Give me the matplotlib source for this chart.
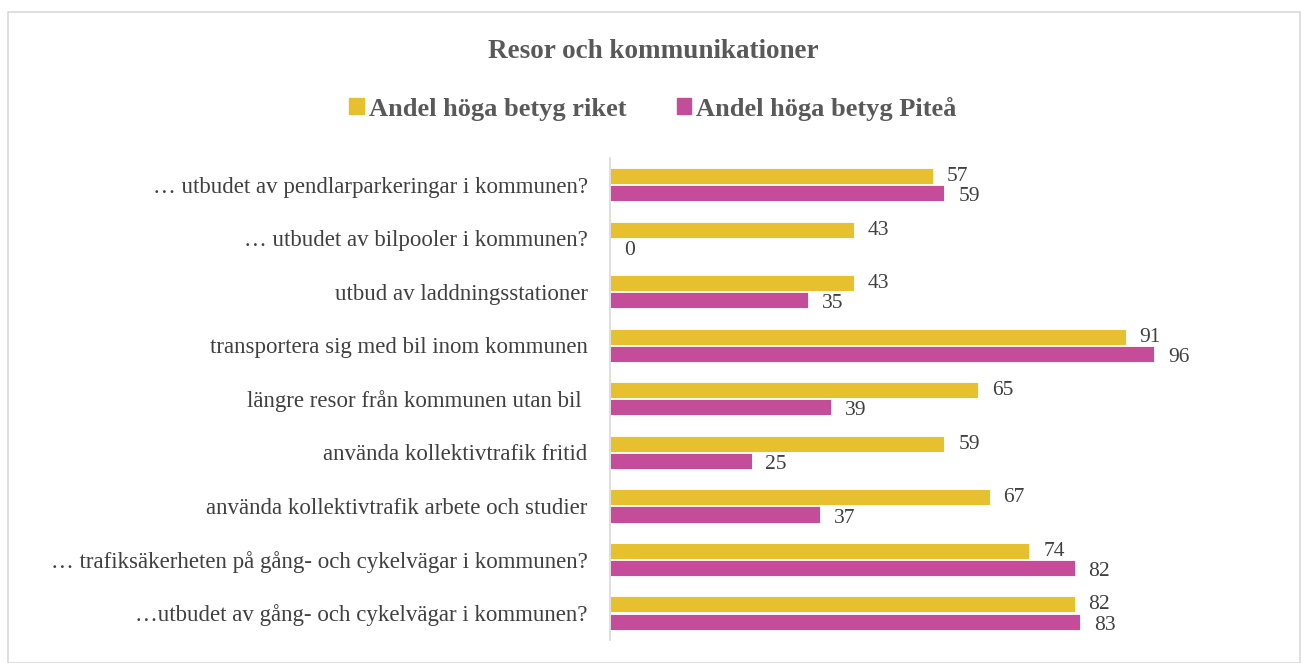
import numpy as np
from matplotlib import pyplot as plt
from matplotlib.patches import Rectangle, Patch

categories = [
    '… utbudet av pendlarparkeringar i kommunen?',
    '… utbudet av bilpooler i kommunen?',
    'utbud av laddningsstationer',
    'transportera sig med bil inom kommunen',
    'längre resor från kommunen utan bil ',
    'använda kollektivtrafik fritid',
    'använda kollektivtrafik arbete och studier',
    '… trafiksäkerheten på gång- och cykelvägar i kommunen?',
    '…utbudet av gång- och cykelvägar i kommunen?',
]
riket = [57, 43, 43, 91, 65, 59, 67, 74, 82]
pitea = [59, 0, 35, 96, 39, 25, 37, 82, 83]

gold = '#E6C02F'
pink = '#C44C98'
txt = '#404040'

plt.rcParams['font.family'] = ['Liberation Serif', 'DejaVu Serif']

fig = plt.figure(figsize=(13.06, 6.63), dpi=100)
ax = fig.add_axes([0.467, 0.035, 0.434, 0.727])

y = np.arange(len(categories))
h = 0.3
ax.barh(y - h / 2 - 0.01, riket, height=h, color=gold, edgecolor='white', linewidth=0.6)
ax.barh(y + h / 2 + 0.01, pitea, height=h, color=pink, edgecolor='white', linewidth=0.6)

for yi, v in zip(y, riket):
    ax.annotate(str(v), (v, yi - h / 2), xytext=(10, 0), textcoords='offset points',
                ha='left', va='center', fontsize=15.5, color=txt)
for yi, v in zip(y, pitea):
    ax.annotate(str(v), (v, yi + h / 2), xytext=(10, -3), textcoords='offset points',
                ha='left', va='center', fontsize=15.5, color=txt)

ax.set_xlim(0, 100)
ax.set_ylim(len(categories) - 0.5, -0.5)
ax.set_yticks(y)
ax.set_yticklabels(categories, fontsize=16.5, color=txt)
ax.tick_params(axis='y', length=0, pad=16)
ax.set_xticks([])
for s in ['top', 'right', 'bottom']:
    ax.spines[s].set_visible(False)
ax.spines['left'].set_color('#d9d9d9')
ax.spines['left'].set_linewidth(1.2)

fig.text(0.5, 0.922, 'Resor och kommunikationer', ha='center', va='center',
         fontsize=19.5, fontweight='bold', color='#595959')

handles = [Patch(color=gold, label='Andel höga betyg riket'),
           Patch(color=pink, label='Andel höga betyg Piteå')]
fig.legend(handles=handles, loc='center', bbox_to_anchor=(0.5, 0.836), ncol=2,
           frameon=False, handlelength=0.55, handleheight=0.55, handletextpad=0.2,
           columnspacing=1.9, prop={'size': 19, 'weight': 'bold'}, labelcolor='#595959')

fig.patches.append(Rectangle((8 / 1306, 0), 1292 / 1306, 1 - 12 / 663, transform=fig.transFigure,
                             fill=False, edgecolor='#d9d9d9', linewidth=1.2))

fig.savefig('out.png', dpi=100)
